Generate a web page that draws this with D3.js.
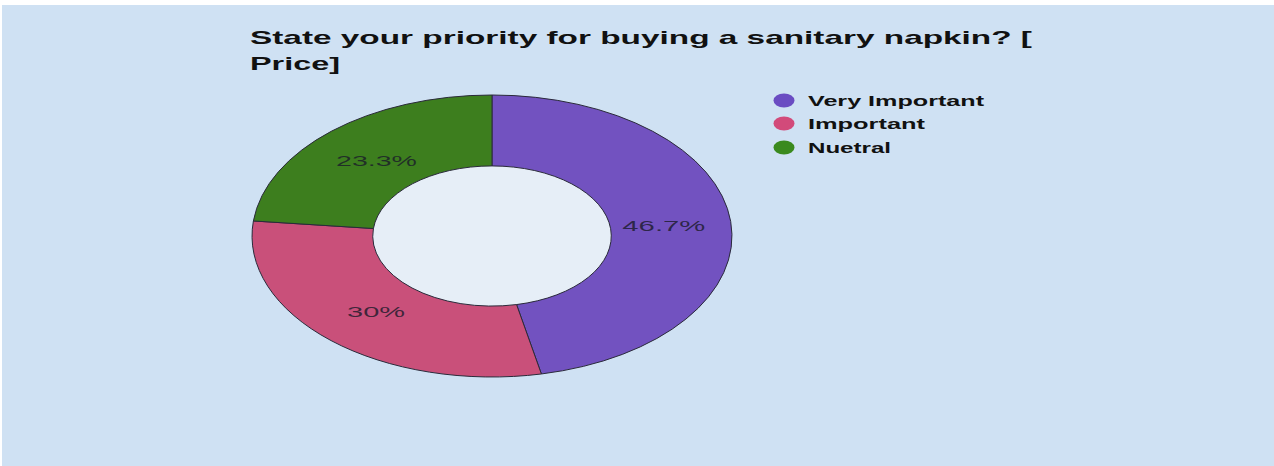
<!DOCTYPE html>
<html><head><meta charset="utf-8">
<script src="https://cdn.jsdelivr.net/npm/d3@7"></script>
<style>html,body{margin:0;padding:0;background:#fff;}svg{display:block;}</style>
</head><body>
<svg id="chart" width="1274" height="466"></svg>
<script>
const categories = ["Very Important", "Important", "Nuetral"];
const values = [46.7, 30, 23.3];
const labels = ["46.7%", "30%", "23.3%"];
const titleLines = ["State your priority for buying a sanitary napkin? [", "Price]"];
const sliceColors = ["#7252c0", "#c9507a", "#3d7e1e"];
const legendColors = ["#6a4cc2", "#d24a7a", "#3a8a1e"];

const svg = d3.select("#chart");
svg.append("rect").attr("x", 2).attr("y", 5).attr("width", 1272).attr("height", 461).attr("fill", "#cfe1f3");

const font = "'Liberation Sans', Arial, sans-serif";
const cx = 492, cy = 236, R = 141, sx = 1.702;

// title
const titleY = [43.5, 70];
const titleW = [782, 90];
titleLines.forEach((t, i) => {
  svg.append("text").attr("x", 250).attr("y", titleY[i])
    .attr("font-family", font).attr("font-weight", "bold").attr("font-size", 19)
    .attr("fill", "#111").attr("textLength", titleW[i]).attr("lengthAdjust", "spacingAndGlyphs")
    .text(t);
});

const pie = d3.pie().sort(null).value(d => d);
const arcs = pie(values);
const arc = d3.arc().innerRadius(R * 0.497).outerRadius(R);

const g = svg.append("g").attr("transform", `translate(${cx},${cy}) scale(${sx},1)`);
g.append("ellipse").attr("rx", R * 0.5).attr("ry", R * 0.5).attr("fill", "#e6eef7");
g.selectAll("path.slice").data(arcs).enter().append("path").attr("class", "slice")
  .attr("d", arc).attr("fill", (d, i) => sliceColors[i])
  .attr("stroke", "#2a2a3a").attr("stroke-width", 1).attr("vector-effect", "non-scaling-stroke");

const labelArc = d3.arc().innerRadius(R * 0.72).outerRadius(R * 0.72);
const labelW = [83, 58, 81];
arcs.forEach((d, i) => {
  const [x, y] = labelArc.centroid(d);
  svg.append("text").attr("x", cx + x * sx).attr("y", cy + y)
    .attr("text-anchor", "middle").attr("dominant-baseline", "central")
    .attr("font-family", font).attr("font-size", 15).attr("fill", "#1a1a2a").attr("fill-opacity", 0.8)
    .attr("textLength", labelW[i]).attr("lengthAdjust", "spacingAndGlyphs")
    .text(labels[i]);
});

// legend
const legY = [100.5, 123.5, 147.5];
const legW = [176, 117, 83];
categories.forEach((c, i) => {
  svg.append("ellipse").attr("cx", 784).attr("cy", legY[i]).attr("rx", 10.5).attr("ry", 7)
    .attr("fill", legendColors[i]);
  svg.append("text").attr("x", 808).attr("y", legY[i]).attr("dominant-baseline", "central")
    .attr("font-family", font).attr("font-weight", "bold").attr("font-size", 15).attr("fill", "#111")
    .attr("textLength", legW[i]).attr("lengthAdjust", "spacingAndGlyphs")
    .text(c);
});
</script>
</body></html>
